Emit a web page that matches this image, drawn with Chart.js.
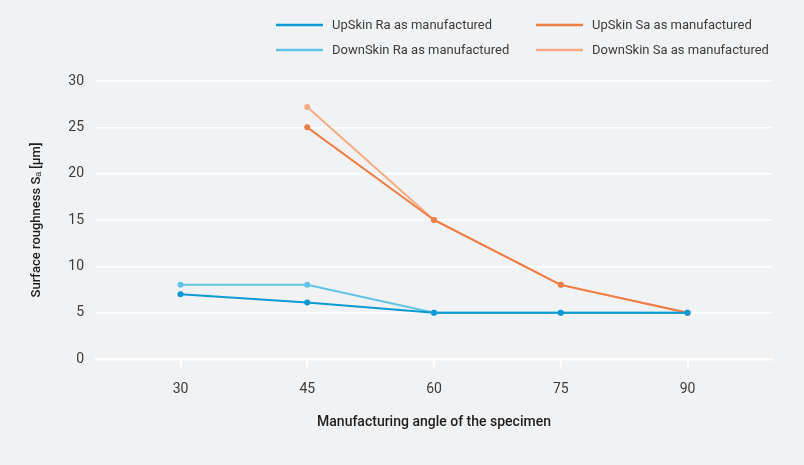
<!DOCTYPE html>
<html>
<head>
<meta charset="utf-8">
<script src="https://cdn.jsdelivr.net/npm/chart.js@4"></script>
<style>
  html, body { margin: 0; padding: 0; background: #f1f2f4; }
  #wrap { width: 804px; height: 465px; position: relative; }
</style>
</head>
<body>
<div id="wrap"><canvas id="c" width="804" height="465"></canvas></div>
<script>
const angles = [30, 45, 60, 75, 90];
const upSkinRa = [7, 6.1, 5, 5, 5];
const downSkinRa = [8, 8, 5, 5, 5];
const upSkinSa = [null, 25, 15, 8, 5];
const downSkinSa = [null, 27.2, 15, 8, 5];
const yTicks = [0, 5, 10, 15, 20, 25, 30];
const seriesLabels = ['UpSkin Ra as manufactured', 'UpSkin Sa as manufactured', 'DownSkin Ra as manufactured', 'DownSkin Sa as manufactured'];
const seriesColors = ['#0b9ad3', '#ee7d46', '#62c3e8', '#f6aa82'];
const xTitle = 'Manufacturing angle of the specimen';
const yTitle = 'Surface roughness S\u2090 [\u00b5m]';

const FONT = 'Roboto, "Open Sans", sans-serif';

function toPoints(vals) {
  return angles.map((a, i) => vals[i] === null ? null : { x: a, y: vals[i] }).filter(p => p);
}
const seriesValues = [upSkinRa, upSkinSa, downSkinRa, downSkinSa];

const datasets = seriesValues.map((vals, i) => ({
  label: seriesLabels[i],
  data: toPoints(vals),
  borderColor: seriesColors[i],
  backgroundColor: seriesColors[i],
  borderWidth: 2,
  pointRadius: 3,
  pointHoverRadius: 3,
  pointBorderWidth: 0,
  tension: 0
}));

const legendPlugin = {
  id: 'gridLegend',
  afterDraw(chart) {
    const ctx = chart.ctx;
    const cols = [276, 536];
    const rows = [25, 50];
    // grid: columns = Ra / Sa ; rows = UpSkin / DownSkin
    const layout = [[0, 0], [1, 0], [0, 1], [1, 1]];
    ctx.save();
    ctx.font = '13px ' + FONT;
    ctx.textBaseline = 'middle';
    ctx.textAlign = 'left';
    chart.data.datasets.forEach((ds, i) => {
      const x = cols[layout[i][0]];
      const y = rows[layout[i][1]];
      ctx.strokeStyle = ds.borderColor;
      ctx.lineWidth = 2.5;
      ctx.beginPath();
      ctx.moveTo(x, y);
      ctx.lineTo(x + 47, y);
      ctx.stroke();
      ctx.fillStyle = '#3c3c3c';
      ctx.fillText(ds.label, x + 56, y + 1);
    });
    ctx.restore();
  }
};

new Chart(document.getElementById('c'), {
  type: 'line',
  data: { datasets },
  plugins: [legendPlugin],
  options: {
    responsive: false,
    animation: false,
    devicePixelRatio: 1,
    layout: { padding: { top: 81, right: 32, left: 0, bottom: 0 } },
    plugins: { legend: { display: false }, tooltip: { enabled: false } },
    scales: {
      x: {
        type: 'linear',
        min: 20,
        max: 100,
        afterBuildTicks(scale) { scale.ticks = angles.map(v => ({ value: v })); },
        afterFit(scale) { scale.height = 106; },
        grid: { drawOnChartArea: false, drawTicks: true, tickLength: 10, color: '#ffffff', lineWidth: 2 },
        border: { display: true, color: '#ffffff', width: 2.5 },
        ticks: { padding: 12, color: '#3c3c3c', font: { family: FONT, size: 14 } },
        title: { display: true, text: xTitle, color: '#1e1e1e', padding: 34, font: { family: FONT, size: 14, weight: '500' } }
      },
      y: {
        min: 0,
        max: 30,
        afterBuildTicks(scale) { scale.ticks = yTicks.map(v => ({ value: v })); },
        afterFit(scale) { scale.width = 96; },
        grid: { drawTicks: false, color: '#ffffff', lineWidth: 1.5 },
        border: { display: false },
        ticks: { padding: 12, color: '#3c3c3c', font: { family: FONT, size: 14 } },
        title: { display: true, text: yTitle, color: '#1e1e1e', padding: 29, font: { family: FONT, size: 13, weight: '500' } }
      }
    }
  }
});
</script>
</body>
</html>
